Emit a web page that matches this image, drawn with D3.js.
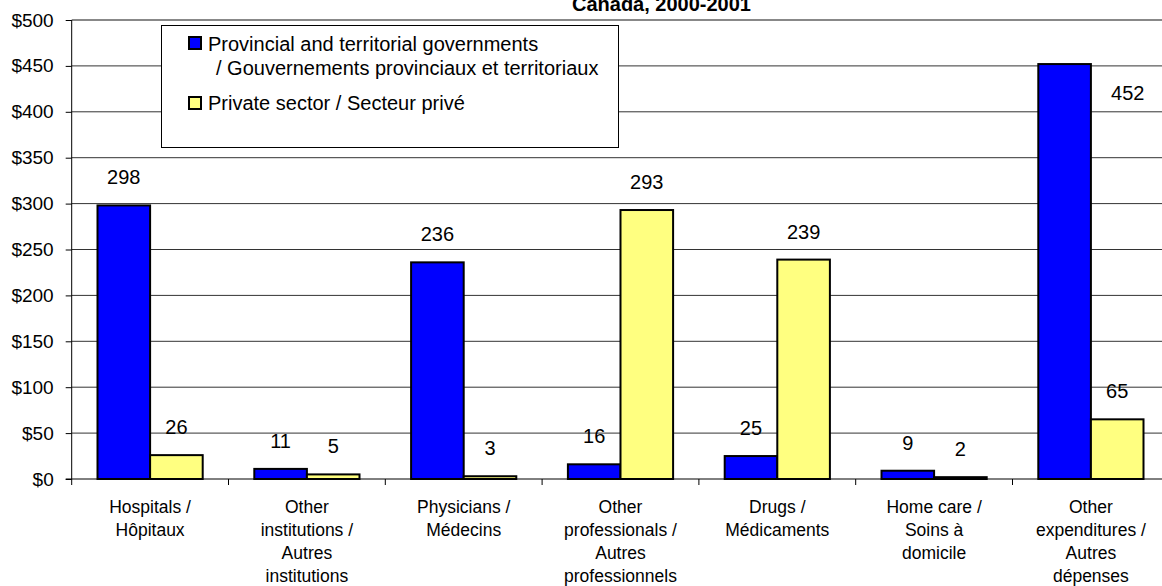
<!DOCTYPE html>
<html>
<head>
<meta charset="utf-8">
<script src="https://cdn.jsdelivr.net/npm/d3@7"></script>
<style>
  html, body { margin: 0; padding: 0; background: #fff; }
  svg { display: block; font-family: "Liberation Sans", Arial, sans-serif; }
</style>
</head>
<body>
<svg id="chart" width="1162" height="586"></svg>
<script>
// categories, one entry per group (lines as wrapped in the original)
var categories = [
  ["Hospitals /", "Hôpitaux"],
  ["Other", "institutions /", "Autres", "institutions"],
  ["Physicians /", "Médecins"],
  ["Other", "professionals /", "Autres", "professionnels"],
  ["Drugs /", "Médicaments"],
  ["Home care /", "Soins à", "domicile"],
  ["Other", "expenditures /", "Autres", "dépenses"]
];
var seriesNames = ["Provincial and territorial governments / Gouvernements provinciaux et territoriaux",
                   "Private sector / Secteur privé"];
var provincial = [298, 11, 236, 16, 25, 9, 452];
var privateSector = [26, 5, 3, 293, 239, 2, 65];
var yTicks = [0, 50, 100, 150, 200, 250, 300, 350, 400, 450, 500];
var titleText = "Canada, 2000-2001";

var colors = ["#0000ff", "#ffff80"];

var svg = d3.select("#chart");
var width = +svg.attr("width"), height = +svg.attr("height");

var plotLeft = 71.7, plotBottom = 479, plotTop = 20, band = 156.8;

var x0 = d3.scaleBand()
    .domain(d3.range(categories.length))
    .range([plotLeft, plotLeft + band * categories.length])
    .paddingInner(0).paddingOuter(0);

var x1 = d3.scaleBand()
    .domain([0, 1])
    .range([25.8, band - 25.8]);

var y = d3.scaleLinear().domain([0, 500]).range([plotBottom, plotTop]);

// title (mostly clipped at top)
svg.append("text")
  .attr("x", 661.5).attr("y", 11)
  .attr("text-anchor", "middle")
  .style("font-weight", "bold").style("font-size", "20px")
  .text(titleText);

// gridlines
svg.append("g").selectAll("line")
  .data(yTicks.filter(function(d) { return d > 0 && d < 500; }))
  .enter().append("line")
  .attr("x1", plotLeft).attr("x2", width)
  .attr("y1", function(d) { return y(d); })
  .attr("y2", function(d) { return y(d); })
  .attr("stroke", "#333").attr("stroke-width", 1);

// plot border top
svg.append("line")
  .attr("x1", plotLeft).attr("x2", width)
  .attr("y1", y(500)).attr("y2", y(500))
  .attr("stroke", "#888").attr("stroke-width", 2);

// y axis
var yAxis = d3.axisLeft(y)
  .tickValues(yTicks)
  .tickFormat(function(d) { return "$" + d; })
  .tickSize(6).tickPadding(12);
var gy = svg.append("g").attr("transform", "translate(" + plotLeft + ",0)").call(yAxis);
gy.select(".domain").attr("stroke", "#000").attr("d", "M0," + y(500) + "V" + plotBottom);
gy.selectAll(".tick line").attr("stroke", "#000");
gy.selectAll(".tick text")
  .style("font-size", "19px").style("font-family", "Liberation Sans, Arial, sans-serif")
  .attr("fill", "#000");

// bars
var data = categories.map(function(c, i) { return [provincial[i], privateSector[i]]; });

var groups = svg.append("g").selectAll("g")
  .data(data)
  .enter().append("g")
  .attr("transform", function(d, i) { return "translate(" + x0(i) + ",0)"; });

groups.selectAll("rect")
  .data(function(d) { return d; })
  .enter().append("rect")
  .attr("x", function(d, j) { return x1(j); })
  .attr("y", function(d) { return y(d); })
  .attr("width", x1.bandwidth())
  .attr("height", function(d) { return y(0) - y(d); })
  .attr("fill", function(d, j) { return colors[j]; })
  .attr("stroke", "#000").attr("stroke-width", 2);

// value labels
groups.selectAll("text")
  .data(function(d) { return d; })
  .enter().append("text")
  .attr("text-anchor", "middle")
  .style("font-size", "20px")
  .each(function(d, j) {
    var cx = x1(j) + x1.bandwidth() / 2;
    var cy = y(d) - 28;
    if (cy < 60) { // too close to the top: put it beside the bar
      cx += x1.bandwidth() * 1.2;
      cy = y(d) + 29;
    }
    d3.select(this).attr("x", cx).attr("y", cy + 7);
  })
  .text(function(d) { return d; });

// x axis
var gx = svg.append("g").attr("transform", "translate(0," + plotBottom + ")");
gx.append("path").attr("stroke", "#000").attr("fill", "none")
  .attr("d", "M" + (plotLeft - 6) + ",0H" + width);
gx.selectAll(".sep")
  .data(d3.range(categories.length + 1))
  .enter().append("line")
  .attr("x1", function(i) { return plotLeft + i * band; })
  .attr("x2", function(i) { return plotLeft + i * band; })
  .attr("y1", 0).attr("y2", 6)
  .attr("stroke", "#000");

// category labels
svg.append("g").selectAll("text")
  .data(categories)
  .enter().append("text")
  .attr("text-anchor", "middle")
  .style("font-size", "17.5px")
  .each(function(lines, i) {
    var t = d3.select(this);
    var cx = x0(i) + x0.bandwidth() / 2;
    lines.forEach(function(l, k) {
      t.append("tspan").attr("x", cx).attr("y", 513 + k * 23).text(l);
    });
  });

// legend
var lg = svg.append("g");
lg.append("rect")
  .attr("x", 161.5).attr("y", 25.5).attr("width", 457).attr("height", 122)
  .attr("fill", "#fff").attr("stroke", "#000").attr("stroke-width", 1);
var legendRows = [
  { color: colors[0], sy: 37, lines: [["Provincial and territorial governments", 208, 51],
                                      ["/ Gouvernements provinciaux et territoriaux", 216, 75]] },
  { color: colors[1], sy: 97, lines: [[seriesNames[1], 208, 110]] }
];
legendRows.forEach(function(r) {
  lg.append("rect")
    .attr("x", 189).attr("y", r.sy).attr("width", 12).attr("height", 12)
    .attr("fill", r.color).attr("stroke", "#000").attr("stroke-width", 2);
  r.lines.forEach(function(l) {
    lg.append("text").attr("x", l[1]).attr("y", l[2])
      .style("font-size", "20px").text(l[0]);
  });
});
</script>
</body>
</html>
